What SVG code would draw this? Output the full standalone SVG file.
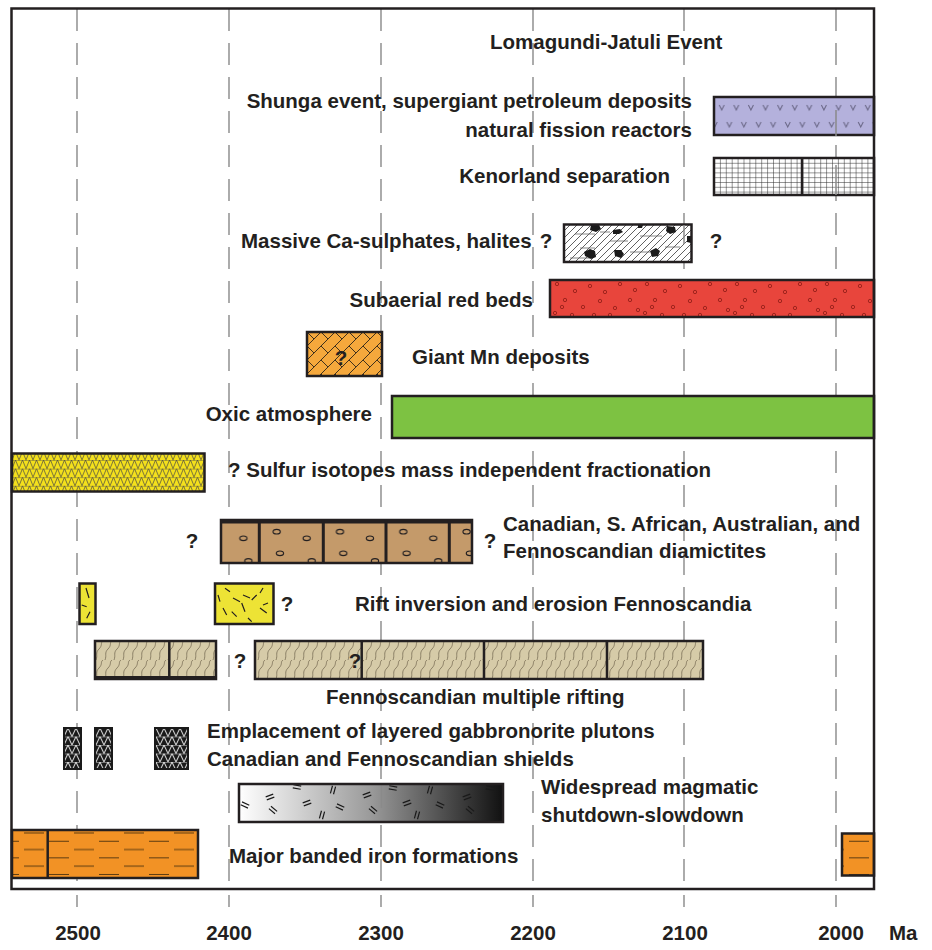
<svg xmlns="http://www.w3.org/2000/svg" width="932" height="950" viewBox="0 0 932 950">
<defs>
<style>
text{font-family:"Liberation Sans",Arial,sans-serif;font-weight:bold;font-size:20.5px;fill:#231f20}
.q{text-anchor:middle}
.e{text-anchor:end}
.grid{stroke:#a3a3a3;stroke-width:1.8;stroke-dasharray:22 12;fill:none}
.tick{stroke:#a3a3a3;stroke-width:1.8}
.gl{stroke:#8a8a8a;stroke-width:1.5}
.box{stroke:#231f20;stroke-width:2.5}
.div{stroke:#231f20;stroke-width:2.5}
.dash{stroke:#231f20;stroke-width:1.2;fill:none}
</style>
<pattern id="pV" patternUnits="userSpaceOnUse" x="714" y="97" width="14.6" height="38">
<path d="M5.2,8 l2.5,5 l2.5,-5 M-1.8,25 l2.5,5 l2.5,-5 M12.8,25 l2.5,5 l2.5,-5" stroke="#6d6a8a" stroke-width="1.1" fill="none"/>
</pattern>
<pattern id="pGrid" patternUnits="userSpaceOnUse" x="714" y="158" width="5.9" height="4.8">
<path d="M0,0 H5.9 M0,0 V4.8" stroke="#2a2a2a" stroke-width="1" fill="none"/>
</pattern>
<pattern id="pHatch" patternUnits="userSpaceOnUse" x="564" y="224" width="7" height="7">
<path d="M-1,1 l2,-2 M0,7 l7,-7 M6,8 l2,-2" stroke="#444" stroke-width="0.85" fill="none"/>
</pattern>
<pattern id="pRed" patternUnits="userSpaceOnUse" x="550" y="280" width="90" height="37">
<g fill="none" stroke="#8e1b14" stroke-width="0.8">
<circle cx="7" cy="4" r="1.7"/><circle cx="25" cy="11" r="1.7"/><circle cx="40" cy="6" r="1.7"/><circle cx="55" cy="12" r="1.7"/><circle cx="70" cy="4" r="1.7"/><circle cx="85" cy="10" r="1.7"/><circle cx="15" cy="20" r="1.7"/><circle cx="33" cy="27" r="1.7"/><circle cx="50" cy="21" r="1.7"/><circle cx="65" cy="28" r="1.7"/><circle cx="80" cy="20" r="1.7"/><circle cx="5" cy="33" r="1.7"/><circle cx="22" cy="35" r="1.7"/><circle cx="44" cy="35" r="1.7"/><circle cx="60" cy="35" r="1.7"/><circle cx="88" cy="30" r="1.7"/><circle cx="12" cy="27" r="1.7"/>
</g>
</pattern>
<pattern id="pMn" patternUnits="userSpaceOnUse" x="307" y="332" width="14" height="14">
<path d="M0,14 L14,0 M0,0 L7,7 M-1,1 l2,-2 M13,15 l2,-2" stroke="#2b2418" stroke-width="0.9" fill="none"/>
</pattern>
<pattern id="pTri" patternUnits="userSpaceOnUse" x="12" y="460" width="7" height="8.6">
<path d="M0,0 H7 M0,8.6 L3.5,0 L7,8.6 M0,0 L-3.5,8.6 M7,0 L10.5,8.6" stroke="#444" stroke-width="0.7" fill="none"/>
</pattern>
<pattern id="pPeb" patternUnits="userSpaceOnUse" x="259.3" y="0" width="63.3" height="950">
<g fill="none" stroke="#231f20" stroke-width="1.2">
<ellipse cx="17.4" cy="531.7" rx="3.6" ry="2.3"/><ellipse cx="47.4" cy="538.3" rx="3.6" ry="2.3"/><ellipse cx="20.7" cy="553.3" rx="3.6" ry="2.3"/><ellipse cx="52.4" cy="561" rx="3.6" ry="2.3"/>
</g>
</pattern>
<pattern id="pWave" patternUnits="userSpaceOnUse" x="95" y="641" width="9" height="19">
<path d="M1,19 C3,14 0,12 4,8 S5,2 8,0" stroke="#6a5f48" stroke-width="0.7" fill="none"/>
</pattern>
<pattern id="pGab" patternUnits="userSpaceOnUse" x="64" y="728" width="8" height="8.5">
<path d="M0,0 H8 M0,8.5 L4,0 L8,8.5" stroke="#dcdcdc" stroke-width="1" fill="none"/>
</pattern>
<pattern id="pBif" patternUnits="userSpaceOnUse" x="12" y="831" width="50" height="16.6">
<path d="M12,2 h20 M-13,10.3 h20 M37,10.3 h20" stroke="#5a3a10" stroke-width="1" fill="none"/>
</pattern>
<linearGradient id="gMag" x1="0" y1="0" x2="1" y2="0">
<stop offset="0" stop-color="#ffffff"/><stop offset="0.5" stop-color="#9a9a9a"/><stop offset="1" stop-color="#111111"/>
</linearGradient>
<g id="dd"><path d="M-4,-1.6 h8 M-4,1.6 h8" stroke="#1a1a1a" stroke-width="1.2"/></g>
</defs>
<rect width="932" height="950" fill="#ffffff"/>

<g id="axis">
<path class="grid" d="M77,9 V888 M229,9 V888 M381,9 V888 M533,9 V888 M684,9 V888 M836,9 V888"/>
<path class="tick" d="M77,895 V907 M229,895 V907 M381,895 V907 M533,895 V907 M684,895 V907 M836,895 V907"/>
<text class="q" x="78" y="940">2500</text>
<text class="q" x="229" y="940">2400</text>
<text class="q" x="381" y="940">2300</text>
<text class="q" x="533" y="940">2200</text>
<text class="q" x="685" y="940">2100</text>
<text class="q" x="841" y="940">2000</text>
<text x="889" y="940">Ma</text>
</g>

<g id="lomagundi"><text x="490" y="49">Lomagundi-Jatuli Event</text></g>

<g id="shunga">
<rect x="714" y="97" width="160" height="38" fill="#b4b1dc"/>
<rect x="714" y="97" width="160" height="38" fill="url(#pV)" class="box"/>
<path class="gl" d="M836,110 V136"/>
<text class="e" x="692" y="108">Shunga event, supergiant petroleum deposits</text>
<text class="e" x="692" y="137">natural fission reactors</text>
</g>

<g id="kenorland">
<rect x="714" y="158" width="160" height="37" fill="#fff"/>
<rect x="714" y="158" width="160" height="37" fill="url(#pGrid)" class="box"/>
<path class="div" d="M802,158 V195"/>
<path class="gl" d="M836,165 V195"/>
<text class="e" x="670" y="183">Kenorland separation</text>
</g>

<g id="ca-sulphates">
<rect x="564" y="224.5" width="127.5" height="37.5" fill="#fff"/>
<rect x="564" y="224.5" width="127.5" height="37.5" fill="url(#pHatch)"/>
<path d="M575,234 h20 M610,241 h18 M640,236 h22 M580,248 h15 M630,252 h20 M665,247 h15 M570,258 h20 M600,232 h10" stroke="#666" stroke-width="0.8"/>
<g fill="#1a1a1a">
<path d="M591,225 l8,0 l2,4 l-5,3 l-6,-2z"/>
<path d="M613,230 l7,-1 l3,3 l-4,2 l-6,0z"/>
<path d="M667,226 l8,1 l1,5 l-6,2 l-4,-3z"/>
<path d="M584,252 l6,-3 l5,2 l1,6 l-5,2 l-6,-3z"/>
<path d="M614,250 l7,0 l3,4 l-3,4 l-6,-2z"/>
<path d="M650,251 l6,-3 l4,3 l-2,5 l-6,1z"/>
<path d="M638,225 l5,0 l-1,3 l-4,0z"/>
<path d="M687,236 l4,0 l0,7 l-4,-1z"/>
</g>
<rect x="564" y="224.5" width="127.5" height="37.5" fill="none" class="box"/>
<path class="gl" d="M684,225 V244"/>
<text x="241" y="248">Massive Ca-sulphates, halites</text>
<text class="q" x="546" y="248">?</text>
<text class="q" x="716" y="248">?</text>
</g>

<g id="red-beds">
<rect x="550" y="280" width="324" height="37" fill="#e8453c"/>
<rect x="550" y="280" width="324" height="37" fill="url(#pRed)" class="box"/>
<text class="e" x="533" y="307">Subaerial red beds</text>
</g>

<g id="mn">
<rect x="307" y="332" width="75" height="44" fill="#f5a83c"/>
<rect x="307" y="332" width="75" height="44" fill="url(#pMn)" class="box"/>
<text class="q" x="341" y="365">?</text>
<text x="412" y="364">Giant Mn deposits</text>
</g>

<g id="oxic">
<rect x="392" y="396" width="482" height="42" fill="#7dc242" class="box"/>
<text class="e" x="372" y="421">Oxic atmosphere</text>
</g>

<g id="sulfur">
<rect x="12" y="453.5" width="192.5" height="38" fill="#f4e01c"/>
<rect x="12" y="453.5" width="192.5" height="38" fill="url(#pTri)" class="box"/>
<text x="228" y="477">? Sulfur isotopes mass independent fractionation</text>
</g>

<g id="diamictites">
<rect x="221" y="520" width="251" height="43" fill="#c49a6a"/>
<rect x="221" y="520" width="251" height="43" fill="url(#pPeb)" class="box"/>
<rect x="221" y="519" width="251" height="4.5" fill="#231f20"/>
<path class="div" d="M259.3,520 V563 M323.3,520 V563 M386,520 V563 M449.3,520 V563" style="stroke-width:3"/>
<text class="q" x="192" y="548">?</text>
<text class="q" x="490" y="548">?</text>
<text x="503" y="531">Canadian, S. African, Australian, and</text>
<text x="503" y="558">Fennoscandian diamictites</text>
</g>

<g id="rift-inversion">
<rect x="79.5" y="583.5" width="16" height="40.5" fill="#ede335" class="box"/>
<rect x="215" y="583.5" width="58.5" height="40.5" fill="#ede335" class="box"/>
<path class="dash" d="M86,588 l3,10 M81.7,605 l5,1.7 M90,611.7 l-3.3,6.6 M225,588.3 l5,3.4 M218,595 l2,6.7 M233,598 l7,3.7 M243,595 l7,3 M256.7,595 l-5,5 M263,588 l-3,5 M241.7,603 l3.3,8.7 M223,608 l3.7,7 M231.7,611.7 l5,5 M260,608 l6.7,5 M268,603 l-5,2 M248,618 l3.7,3.7"/>
<text class="q" x="287" y="611">?</text>
<text x="355" y="611">Rift inversion and erosion Fennoscandia</text>
</g>

<g id="rifting">
<rect x="95" y="641" width="121" height="38" fill="#d6cba8"/>
<rect x="95" y="641" width="121" height="38" fill="url(#pWave)" class="box"/>
<rect x="95" y="676" width="121" height="3" fill="#231f20"/>
<path class="div" d="M169.3,641 V679"/>
<rect x="255" y="641" width="448" height="38" fill="#d6cba8"/>
<rect x="255" y="641" width="448" height="38" fill="url(#pWave)" class="box"/>
<path class="div" d="M361.7,641 V679 M484,641 V679 M607,641 V679"/>
<text class="q" x="240" y="668">?</text>
<text class="q" x="355" y="668">?</text>
<text x="326" y="704">Fennoscandian multiple rifting</text>
</g>

<g id="gabbronorite">
<rect x="64" y="728" width="17" height="41" fill="#1a1a1a"/>
<rect x="64" y="728" width="17" height="41" fill="url(#pGab)" stroke="#1a1a1a" stroke-width="2"/>
<rect x="95" y="728" width="17" height="41" fill="#1a1a1a"/>
<rect x="95" y="728" width="17" height="41" fill="url(#pGab)" stroke="#1a1a1a" stroke-width="2"/>
<rect x="155" y="728" width="33" height="41" fill="#1a1a1a"/>
<rect x="155" y="728" width="33" height="41" fill="url(#pGab)" stroke="#1a1a1a" stroke-width="2"/>
<text x="207" y="738">Emplacement of layered gabbronorite plutons</text>
<text x="207" y="766">Canadian and Fennoscandian shields</text>
</g>

<g id="magmatic">
<rect x="239" y="784" width="264" height="38" fill="url(#gMag)"/>
<use href="#dd" transform="translate(245,805) rotate(25)"/>
<use href="#dd" transform="translate(270,797) rotate(-20)"/>
<use href="#dd" transform="translate(273,810) rotate(40)"/>
<use href="#dd" transform="translate(297,787) rotate(10)"/>
<use href="#dd" transform="translate(307,803) rotate(-20)"/>
<use href="#dd" transform="translate(322,815) rotate(-75)"/>
<use href="#dd" transform="translate(333,790) rotate(-75)"/>
<use href="#dd" transform="translate(340,807) rotate(25)"/>
<use href="#dd" transform="translate(367,795) rotate(-20)"/>
<use href="#dd" transform="translate(373,810) rotate(40)"/>
<use href="#dd" transform="translate(393,788) rotate(10)"/>
<use href="#dd" transform="translate(407,803) rotate(-20)"/>
<use href="#dd" transform="translate(417,815) rotate(-75)"/>
<use href="#dd" transform="translate(430,790) rotate(-75)"/>
<use href="#dd" transform="translate(440,805) rotate(25)"/>
<use href="#dd" transform="translate(467,797) rotate(-20)"/>
<use href="#dd" transform="translate(470,810) rotate(40)"/>
<use href="#dd" transform="translate(490,788) rotate(10)"/>
<path class="gl" d="M381.5,783 V808"/>
<rect x="239" y="784" width="264" height="38" fill="none" class="box"/>
<text x="541" y="794">Widespread magmatic</text>
<text x="541" y="822">shutdown-slowdown</text>
</g>

<g id="bif">
<rect x="12" y="830" width="186" height="48" fill="#f29225"/>
<rect x="12" y="830" width="186" height="48" fill="url(#pBif)" class="box"/>
<path class="div" d="M47.7,830 V878"/>
<rect x="842" y="833.5" width="32" height="42" fill="#f29225"/>
<rect x="842" y="833.5" width="32" height="42" fill="url(#pBif)" class="box"/>
<text x="229" y="863">Major banded iron formations</text>
</g>

<g id="frame"><rect x="11.5" y="8.5" width="862.5" height="880.5" fill="none" stroke="#231f20" stroke-width="2.5"/></g>
</svg>
